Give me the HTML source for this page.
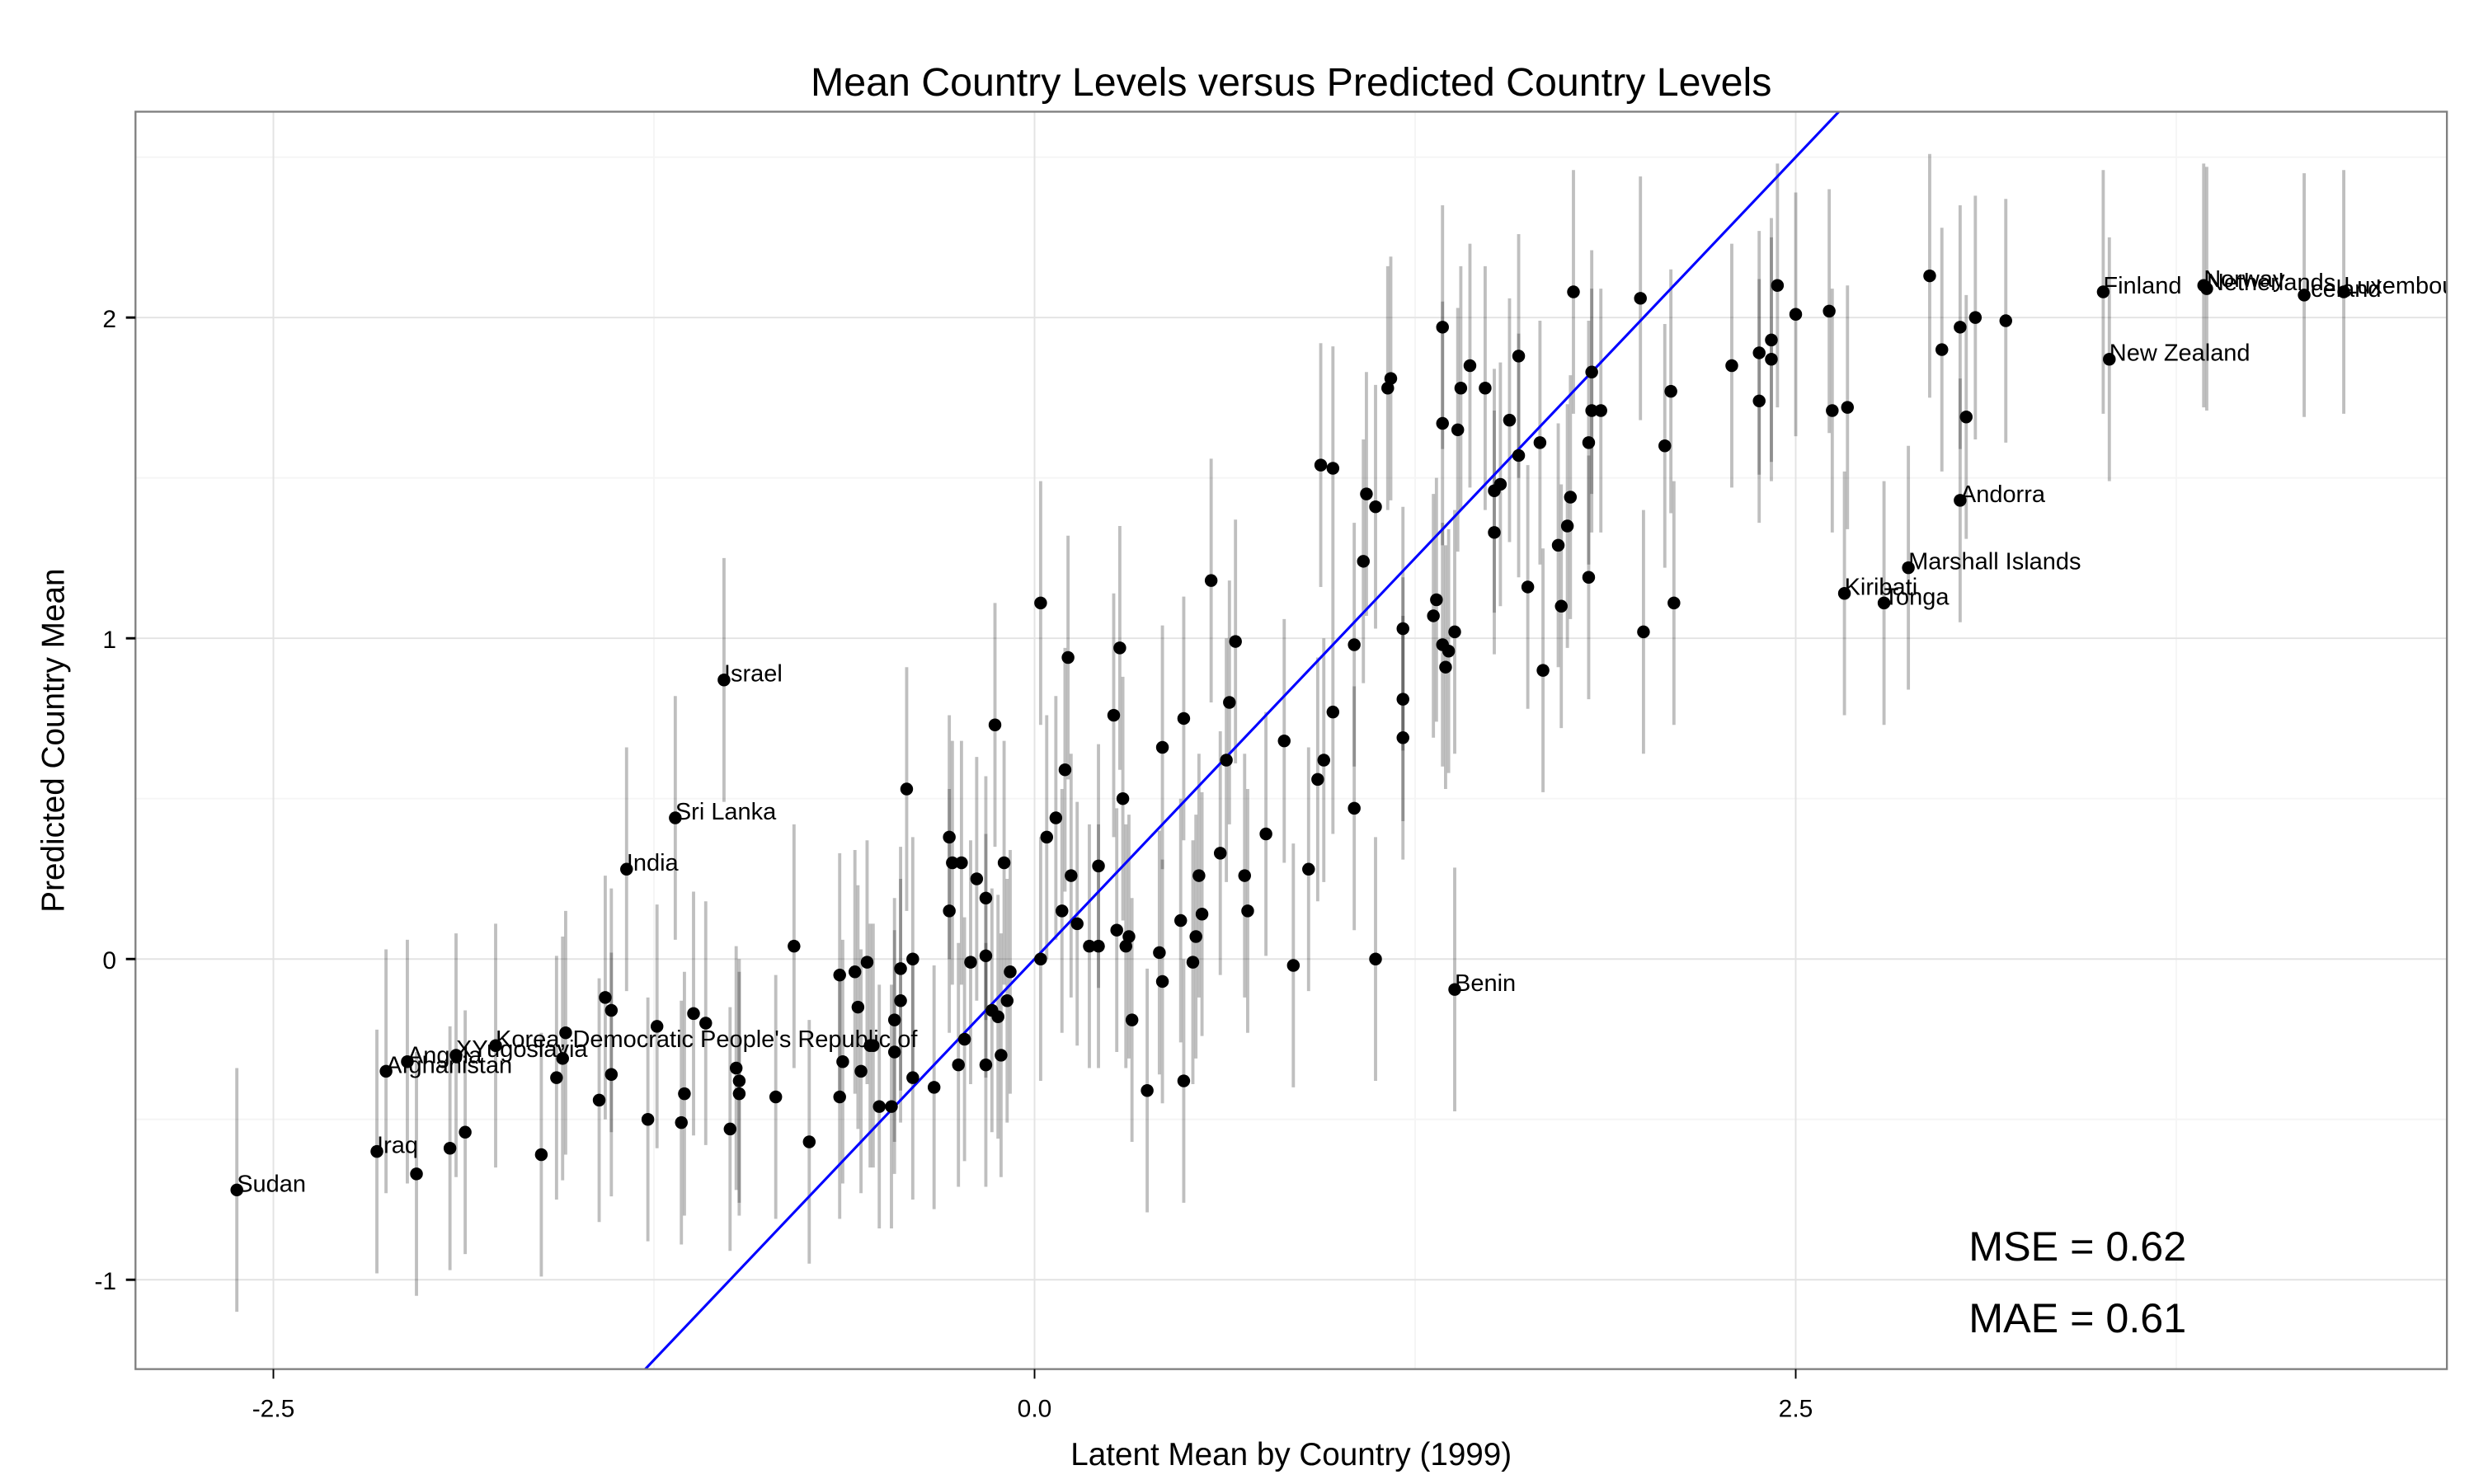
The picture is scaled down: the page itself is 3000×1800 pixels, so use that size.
<!DOCTYPE html>
<html><head><meta charset="utf-8"><style>
html,body{margin:0;padding:0;background:#fff;}
svg{display:block;font-family:"Liberation Sans",Arial,sans-serif;}
</style></head><body>
<svg id="chart" width="3000" height="1800" viewBox="0 0 1552 930" preserveAspectRatio="none" xmlns="http://www.w3.org/2000/svg">
<defs><clipPath id="panelclip"><rect x="85" y="70" width="1450" height="788"/></clipPath></defs>
<rect x="0" y="0" width="1552" height="930" fill="#fff"/>
<g id="grid"></g>
<g id="bars" clip-path="url(#panelclip)"></g>
<line id="refline" stroke="#0000ff" stroke-width="1.6"/>
<g id="pts"></g>
<g id="labels" clip-path="url(#panelclip)"></g>
<rect x="85" y="70" width="1450" height="788" fill="none" stroke="#7f7f7f" stroke-width="1.2"/>
<g id="axes"></g>
<text x="810" y="60" font-size="25" text-anchor="middle">Mean Country Levels versus Predicted Country Levels</text>
<text x="810" y="918" font-size="20" text-anchor="middle">Latent Mean by Country (1999)</text>
<text transform="translate(40,464) rotate(-90)" font-size="20" text-anchor="middle">Predicted Country Mean</text>
<text x="1235" y="790" font-size="26">MSE = 0.62</text>
<text x="1235" y="835" font-size="26">MAE = 0.61</text>
</svg>
<script>
const xs=[-2.62,-2.16,-2.13,-2.06,-1.90,-1.77,-1.34,-1.18,-1.02,1.38,2.66,2.79,2.87,3.04,3.51,3.85,3.84,3.53,4.17,4.30,
-2.03,-1.92,-1.87,-1.62,-1.57,-1.55,-1.54,-1.43,-1.41,-1.39,-1.39,-1.27,-1.24,-1.16,-1.15,-1.12,-1.08,-1.00,-0.98,-0.97,-0.97,-0.85,-0.79,-0.74,-0.64,-0.64,-0.63,-0.59,-0.58,-0.57,-0.55,-0.54,-0.53,-0.51,-0.47,-0.46,-0.46,-0.44,-0.44,-0.42,-0.40,-0.40,-0.33,-0.28,-0.28,-0.27,-0.24,-0.25,-0.23,-0.21,-0.19,-0.16,-0.16,-0.16,-0.14,-0.13,-0.12,-0.11,-0.10,-0.09,-0.08,
0.02,0.02,0.04,0.07,0.09,0.10,0.11,0.12,0.14,0.18,0.21,0.21,0.26,0.27,0.28,0.29,0.30,0.31,0.32,0.37,0.41,0.42,0.42,0.48,0.49,0.49,0.52,0.53,0.54,0.55,0.58,0.61,0.63,0.64,0.66,0.69,0.70,0.76,0.82,0.85,0.90,0.93,0.94,0.95,0.98,0.98,1.05,1.05,1.08,1.09,1.12,1.12,1.16,1.17,1.21,1.21,1.21,
1.31,1.32,1.34,1.34,1.34,1.35,1.36,1.38,1.39,1.40,1.43,1.48,1.51,1.51,1.53,1.56,1.59,1.59,1.62,1.66,1.67,1.72,1.73,1.75,1.76,1.77,1.82,1.82,1.83,1.83,1.86,1.99,2.00,2.07,2.09,2.10,2.29,2.38,2.38,2.42,2.42,2.44,2.50,2.61,2.62,2.67,2.94,2.98,3.04,3.06,3.09,3.19];
const ys=[-0.72,-0.60,-0.35,-0.32,-0.30,-0.27,0.28,0.44,0.87,-0.095,1.14,1.11,1.22,1.43,2.08,2.09,2.10,1.87,2.07,2.08,
-0.67,-0.59,-0.54,-0.61,-0.37,-0.31,-0.23,-0.44,-0.12,-0.16,-0.36,-0.50,-0.21,-0.51,-0.42,-0.17,-0.20,-0.53,-0.34,-0.38,-0.42,-0.43,0.04,-0.57,-0.05,-0.43,-0.32,-0.04,-0.15,-0.35,-0.01,-0.27,-0.27,-0.46,-0.46,-0.29,-0.19,-0.03,-0.13,0.53,-0.37,0.00,-0.40,0.38,0.15,0.30,0.30,-0.33,-0.25,-0.01,0.25,0.19,0.01,-0.33,-0.16,0.73,-0.18,-0.30,0.30,-0.13,-0.04,
1.11,0.00,0.38,0.44,0.15,0.59,0.94,0.26,0.11,0.04,0.04,0.29,0.76,0.09,0.97,0.50,0.04,0.07,-0.19,-0.41,0.02,0.66,-0.07,0.12,-0.38,0.75,-0.01,0.07,0.26,0.14,1.18,0.33,0.62,0.80,0.99,0.26,0.15,0.39,0.68,-0.02,0.28,0.56,1.54,0.62,1.53,0.77,0.98,0.47,1.24,1.45,1.41,0.00,1.78,1.81,1.03,0.81,0.69,
1.07,1.12,1.97,1.67,0.98,0.91,0.96,1.02,1.65,1.78,1.85,1.78,1.33,1.46,1.48,1.68,1.57,1.88,1.16,1.61,0.90,1.29,1.10,1.35,1.44,2.08,1.19,1.61,1.83,1.71,1.71,2.06,1.02,1.60,1.77,1.11,1.85,1.74,1.89,1.87,1.93,2.10,2.01,2.02,1.71,1.72,2.13,1.90,1.97,1.69,2.00,1.99];
const names=["Sudan","Iraq","Afghanistan","Angola","XYugoslavia","Korea, Democratic People's Republic of","India","Sri Lanka","Israel","Benin","Kiribati","Tonga","Marshall Islands","Andorra","Finland","Netherlands","Norway","New Zealand","Iceland","Luxembourg"];
const seHalf=0.38;
const xTicks=[-2.5,0,2.5];
const xTickLabels=["-2.5","0.0","2.5"];
const yTicks=[-1,0,1,2];
const yTickLabels=["-1","0","1","2"];
const xMinor=[-1.25,1.25,3.75];
const yMinor=[-0.5,0.5,1.5,2.5];

const L=85,R=1535,T=70,B=858;
const X=v=>649+191*v;
const Y=v=>601-201*v;
const NS="http://www.w3.org/2000/svg";
function mk(tag,parent,attrs){const e=document.createElementNS(NS,tag);for(const k in attrs)e.setAttribute(k,attrs[k]);document.getElementById(parent).appendChild(e);return e;}
const clampY=v=>Math.max(T,Math.min(B,v));

xMinor.forEach(v=>{const e=mk('line','grid',{x1:X(v),x2:X(v),y1:T,y2:B,stroke:'#f5f5f5','stroke-width':1});

});
yMinor.forEach(v=>{const e=mk('line','grid',{x1:L,x2:R,y1:Y(v),y2:Y(v),stroke:'#f5f5f5','stroke-width':1});

});
xTicks.forEach((v,i)=>{const g=mk('line','grid',{x1:X(v),x2:X(v),y1:T,y2:B,stroke:'#e3e3e3','stroke-width':1});


const t=mk('line','axes',{x1:X(v),x2:X(v),y1:B,y2:B+6,stroke:'#000','stroke-width':1});


const l=mk('text','axes',{x:X(v),y:B+30,'font-size':15.5,'text-anchor':'middle'});l.textContent=xTickLabels[i];

});
yTicks.forEach((v,i)=>{const g=mk('line','grid',{x1:L,x2:R,y1:Y(v),y2:Y(v),stroke:'#e3e3e3','stroke-width':1});


const t=mk('line','axes',{x1:L-6,x2:L,y1:Y(v),y2:Y(v),stroke:'#000','stroke-width':1.5});


const l=mk('text','axes',{x:L-12,y:Y(v)+6,'font-size':15.5,'text-anchor':'end'});l.textContent=yTickLabels[i];

});

const lo=Math.max((L-649)/191,(601-B)/201), hi=Math.min((R-649)/191,(601-T)/201);
const rl=document.getElementById('refline');
rl.setAttribute('x1',X(lo));rl.setAttribute('y1',Y(lo));rl.setAttribute('x2',X(hi));rl.setAttribute('y2',Y(hi));

xs.forEach((xv,i)=>{const yv=ys[i];
const b=mk('line','bars',{x1:X(xv),x2:X(xv),y1:clampY(Y(yv+seHalf)),y2:clampY(Y(yv-seHalf)),stroke:'#000','stroke-opacity':0.25,'stroke-width':2});


const c=mk('circle','pts',{cx:X(xv),cy:Y(yv),r:4,fill:'#000'});


if(i<names.length){const t=mk('text','labels',{x:X(xv),y:Y(yv)+1,'font-size':15});t.textContent=names[i];

}
});
</script>
</body></html>
